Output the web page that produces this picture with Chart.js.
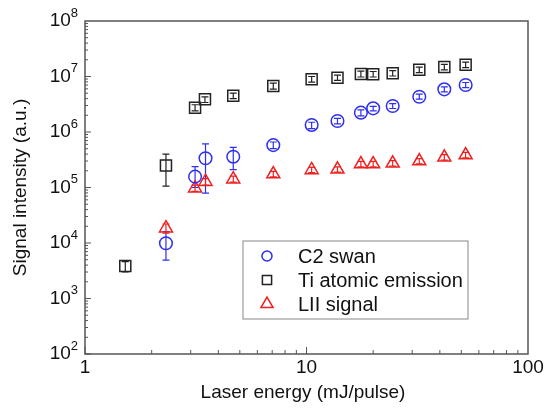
<!DOCTYPE html>
<html>
<head>
<meta charset="utf-8">
<script src="https://cdn.jsdelivr.net/npm/chart.js@4/dist/chart.umd.min.js"></script>
<style>
  html, body { margin: 0; padding: 0; background: #fff; }
  #box { width: 545px; height: 413px; }
</style>
</head>
<body>
<div id="box"><canvas id="grafico"></canvas></div>
<script>
// energias do laser (mJ/pulse)
var energiaTi = [1.52, 2.32, 3.14, 3.48, 4.67, 7.08, 10.55, 13.8, 17.6, 20.0, 24.5, 32.3, 41.9, 52.3];
var energiaC2 = [2.32, 3.14, 3.5, 4.67, 7.08, 10.55, 13.8, 17.6, 20.0, 24.5, 32.3, 41.9, 52.3];
var energiaLII = [2.32, 3.14, 3.5, 4.67, 7.08, 10.55, 13.8, 17.6, 20.0, 24.5, 32.3, 41.9, 52.3];

// Ti atomic emission
var sinalTi = [3.85e3, 2.5e5, 2.74e6, 3.88e6, 4.5e6, 6.75e6, 8.9e6, 9.5e6, 1.11e7, 1.1e7, 1.14e7, 1.32e7, 1.48e7, 1.63e7];
var tiMin = [3.0e3, 1.06e5, 2.4e6, 3.4e6, 4.0e6, 5.9e6, 7.9e6, 8.5e6, 9.8e6, 9.8e6, 1.02e7, 1.17e7, 1.32e7, 1.45e7];
var tiMax = [4.6e3, 4.0e5, 3.1e6, 4.3e6, 5.0e6, 7.6e6, 1.0e7, 1.06e7, 1.25e7, 1.23e7, 1.28e7, 1.47e7, 1.65e7, 1.82e7];

// C2 swan
var sinalC2 = [9.9e3, 1.57e5, 3.36e5, 3.59e5, 5.8e5, 1.34e6, 1.58e6, 2.23e6, 2.67e6, 2.94e6, 4.32e6, 5.87e6, 7.03e6];
var c2Min = [4.9e3, 1.0e5, 7.9e4, 2.1e5, 5.0e5, 1.15e6, 1.4e6, 1.95e6, 2.4e6, 2.65e6, 3.9e6, 5.3e6, 6.3e6];
var c2Max = [1.6e4, 2.37e5, 6.1e5, 5.3e5, 6.6e5, 1.5e6, 1.76e6, 2.5e6, 2.9e6, 3.25e6, 4.8e6, 6.5e6, 7.8e6];

// LII signal
var sinalLII = [1.85e4, 9.7e4, 1.27e5, 1.41e5, 1.75e5, 2.07e5, 2.13e5, 2.65e5, 2.65e5, 2.73e5, 3.0e5, 3.5e5, 3.85e5];
var liiMin = [1.5e4, 8.5e4, 1.1e5, 1.25e5, 1.55e5, 1.85e5, 1.9e5, 2.35e5, 2.35e5, 2.43e5, 2.68e5, 3.12e5, 3.43e5];
var liiMax = [2.2e4, 1.1e5, 1.45e5, 1.6e5, 1.95e5, 2.3e5, 2.35e5, 2.95e5, 2.95e5, 3.05e5, 3.32e5, 3.9e5, 4.3e5];

// rótulos dos eixos
var ticksX = [1, 10, 100];
var ticksY = [2, 3, 4, 5, 6, 7, 8]; // expoentes de 10

var fonte = '"Liberation Sans", Arial, sans-serif';

function pontos(xs, ys, mins, maxs) {
    return xs.map(function (x, i) {
        return { x: x, y: ys[i], yMin: mins[i], yMax: maxs[i] };
    });
}

// Plugin para barras de erro, marcas dos eixos, rótulos e legenda
var pluginDesenho = {
    id: 'desenho',
    beforeDatasetsDraw: function (chart) {
        var ctx = chart.ctx;
        var sx = chart.scales.x, sy = chart.scales.y;
        ctx.save();
        chart.data.datasets.forEach(function (ds) {
            ctx.strokeStyle = ds.borderColor;
            ctx.lineWidth = 1.2;
            ds.data.forEach(function (p) {
                var px = sx.getPixelForValue(p.x);
                var y1 = sy.getPixelForValue(p.yMin);
                var y2 = sy.getPixelForValue(p.yMax);
                ctx.beginPath();
                ctx.moveTo(px, y1); ctx.lineTo(px, y2);
                ctx.moveTo(px - 3.5, y1); ctx.lineTo(px + 3.5, y1);
                ctx.moveTo(px - 3.5, y2); ctx.lineTo(px + 3.5, y2);
                ctx.stroke();
            });
        });
        ctx.restore();
    },
    afterDraw: function (chart) {
        var ctx = chart.ctx;
        var a = chart.chartArea;
        var sx = chart.scales.x, sy = chart.scales.y;
        ctx.save();

        // moldura
        ctx.strokeStyle = '#555';
        ctx.lineWidth = 1.5;
        ctx.strokeRect(a.left, a.top, a.right - a.left, a.bottom - a.top);

        // marcas menores e maiores (para dentro)
        ctx.lineWidth = 1;
        ctx.strokeStyle = '#555';
        ctx.beginPath();
        for (var e = 2; e < 8; e++) {
            for (var m = 1; m < 10; m++) {
                var py = sy.getPixelForValue(m * Math.pow(10, e));
                var len = (m === 1) ? 6 : 3;
                ctx.moveTo(a.left, py); ctx.lineTo(a.left + len, py);
            }
        }
        for (var e2 = 0; e2 < 2; e2++) {
            for (var m2 = 1; m2 < 10; m2++) {
                var px = sx.getPixelForValue(m2 * Math.pow(10, e2));
                var len2 = (m2 === 1) ? 7 : 4;
                ctx.moveTo(px, a.bottom); ctx.lineTo(px, a.bottom - len2);
            }
        }
        ctx.stroke();

        // rótulos do eixo Y: 10 com expoente
        ctx.fillStyle = '#111';
        ctx.textBaseline = 'middle';
        ticksY.forEach(function (ex) {
            var py = sy.getPixelForValue(Math.pow(10, ex));
            ctx.font = '13px ' + fonte;
            ctx.textAlign = 'right';
            ctx.fillText(String(ex), a.left - 7, py - 8);
            var w = ctx.measureText(String(ex)).width;
            ctx.font = '19px ' + fonte;
            ctx.fillText('10', a.left - 7 - w, py);
        });

        // rótulos do eixo X
        ctx.font = '19px ' + fonte;
        ctx.textAlign = 'center';
        ticksX.forEach(function (v) {
            ctx.fillText(String(v), sx.getPixelForValue(v), a.bottom + 14);
        });

        // títulos dos eixos
        ctx.font = '19px ' + fonte;
        ctx.fillText('Laser energy (mJ/pulse)', 303, a.bottom + 39);
        ctx.save();
        ctx.translate(21, (a.top + a.bottom) / 2);
        ctx.rotate(-Math.PI / 2);
        ctx.fillText('Signal intensity (a.u.)', 0, 0);
        ctx.restore();

        // legenda
        var lx = 243, ly = 241, lw = 225, lh = 78;
        ctx.fillStyle = '#fff';
        ctx.fillRect(lx, ly, lw, lh);
        ctx.strokeStyle = '#888';
        ctx.lineWidth = 1;
        ctx.strokeRect(lx, ly, lw, lh);
        ctx.font = '20px ' + fonte;
        ctx.textAlign = 'left';
        chart.data.datasets.forEach(function (ds, i) {
            var yy = ly + 15 + i * 24;
            ctx.fillStyle = 'rgba(0,0,0,0)';
            ctx.strokeStyle = ds.borderColor;
            ctx.lineWidth = 1.5;
            Chart.helpers.drawPoint(ctx, {
                pointStyle: ds.pointStyle,
                radius: ds.legendRadius,
                borderWidth: 1.5
            }, lx + 24, yy);
            ctx.fillStyle = '#111';
            ctx.fillText(ds.label, lx + 55, yy + 1);
        });

        ctx.restore();
    }
};

var ctx = document.getElementById('grafico').getContext('2d');

var grafico = new Chart(ctx, {
    type: 'scatter',
    data: {
        datasets: [
            {
                label: 'C2 swan',
                data: pontos(energiaC2, sinalC2, c2Min, c2Max),
                pointStyle: 'circle',
                pointRadius: 6.3,
                legendRadius: 5,
                borderColor: '#2f2ff0',
                backgroundColor: 'rgba(0,0,0,0)',
                borderWidth: 1.5
            },
            {
                label: 'Ti atomic emission',
                data: pontos(energiaTi, sinalTi, tiMin, tiMax),
                pointStyle: 'rect',
                pointRadius: 7.8,
                legendRadius: 6.5,
                borderColor: '#222222',
                backgroundColor: 'rgba(0,0,0,0)',
                borderWidth: 1.5
            },
            {
                label: 'LII signal',
                data: pontos(energiaLII, sinalLII, liiMin, liiMax),
                pointStyle: 'triangle',
                pointRadius: 7.5,
                legendRadius: 7,
                borderColor: '#ee2020',
                backgroundColor: 'rgba(0,0,0,0)',
                borderWidth: 1.5
            }
        ]
    },
    options: {
        responsive: true,
        maintainAspectRatio: false,
        animation: false,
        layout: { padding: { top: 21, right: 17, left: 0, bottom: 0 } },
        plugins: {
            legend: { display: false },
            tooltip: { enabled: false }
        },
        scales: {
            x: {
                type: 'logarithmic',
                min: 1,
                max: 100,
                grid: { display: false },
                border: { display: false },
                ticks: { display: false },
                afterFit: function (s) { s.height = 59; }
            },
            y: {
                type: 'logarithmic',
                min: 100,
                max: 1e8,
                grid: { display: false },
                border: { display: false },
                ticks: { display: false },
                afterFit: function (s) { s.width = 85; }
            }
        }
    },
    plugins: [pluginDesenho]
});
</script>
</body>
</html>
